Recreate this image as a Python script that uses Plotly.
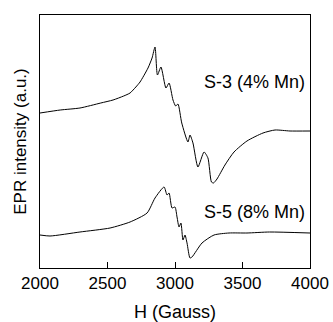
import plotly.graph_objects as go

# S-3 (4% Mn) spectrum: field (Gauss) and intensity (a.u.)
s3_field = [2000, 2150, 2296, 2450, 2541, 2620, 2667, 2710, 2741, 2800, 2830, 2852, 2870, 2896, 2933, 2956,
            2985, 3005, 3022, 3050, 3096, 3111, 3133, 3170, 3215, 3244, 3270, 3285, 3311, 3370,
            3437, 3533, 3652, 3741, 3852, 4000]
s3_intensity = [155, 158, 160, 165, 168, 172, 175, 181, 186, 200, 210, 221, 193, 201, 180, 185,
                168, 162, 164, 145, 126, 133, 125, 101, 116, 110, 86, 85, 89, 103,
                116, 127, 135, 138, 137, 137]

# S-5 (8% Mn) spectrum
s5_field = [2000, 2074, 2296, 2519, 2667, 2793, 2852, 2919, 2941, 2956, 2978, 3000, 3015, 3030,
            3044, 3059, 3074, 3089, 3111, 3126, 3200, 3289, 3400, 3533, 3700, 4000]
s5_intensity = [33, 32, 36, 40, 46, 55, 70, 81, 73, 75, 60, 61, 51, 41,
                45, 28, 33, 25, 10, 11, 25, 33, 35, 35, 36, 35]

labels = ["S-3 (4% Mn)", "S-5 (8% Mn)"]
label_y = [186, 56]

x_ticks = [2000, 2500, 3000, 3500, 4000]

font = dict(family="Arial, Liberation Sans, sans-serif", size=17, color="black")

fig = go.Figure()
fig.add_trace(go.Scatter(x=s3_field, y=s3_intensity, mode="lines",
                         line=dict(color="black", width=1, shape="spline", smoothing=0.6),
                         showlegend=False))
fig.add_trace(go.Scatter(x=s5_field, y=s5_intensity, mode="lines",
                         line=dict(color="black", width=1, shape="spline", smoothing=0.6),
                         showlegend=False))

for t, yv in zip(labels, label_y):
    fig.add_annotation(x=3975, y=yv, text=t, showarrow=False, xanchor="right",
                       yanchor="middle", font=dict(font, size=18))

fig.update_layout(
    width=333, height=322,
    margin=dict(l=40, r=23, t=15, b=54, autoexpand=False),
    paper_bgcolor="white", plot_bgcolor="white",
    font=font,
)
fig.update_xaxes(range=[2000, 4000], tickvals=x_ticks, ticks="inside", ticklen=6,
                 tickcolor="black", showline=True, linecolor="black", linewidth=1,
                 mirror=True, showgrid=False, zeroline=False, automargin=False,
                 title=dict(text="H (Gauss)", font=dict(font, size=18), standoff=17),
                 tickfont=dict(font, size=17))
fig.update_yaxes(range=[0, 253], showticklabels=False, ticks="", showline=True,
                 linecolor="black", linewidth=1, mirror=True, showgrid=False, zeroline=False,
                 automargin=False,
                 title=dict(text="EPR intensity (a.u.)", font=dict(font, size=17), standoff=8))

fig.write_html("out.html")
